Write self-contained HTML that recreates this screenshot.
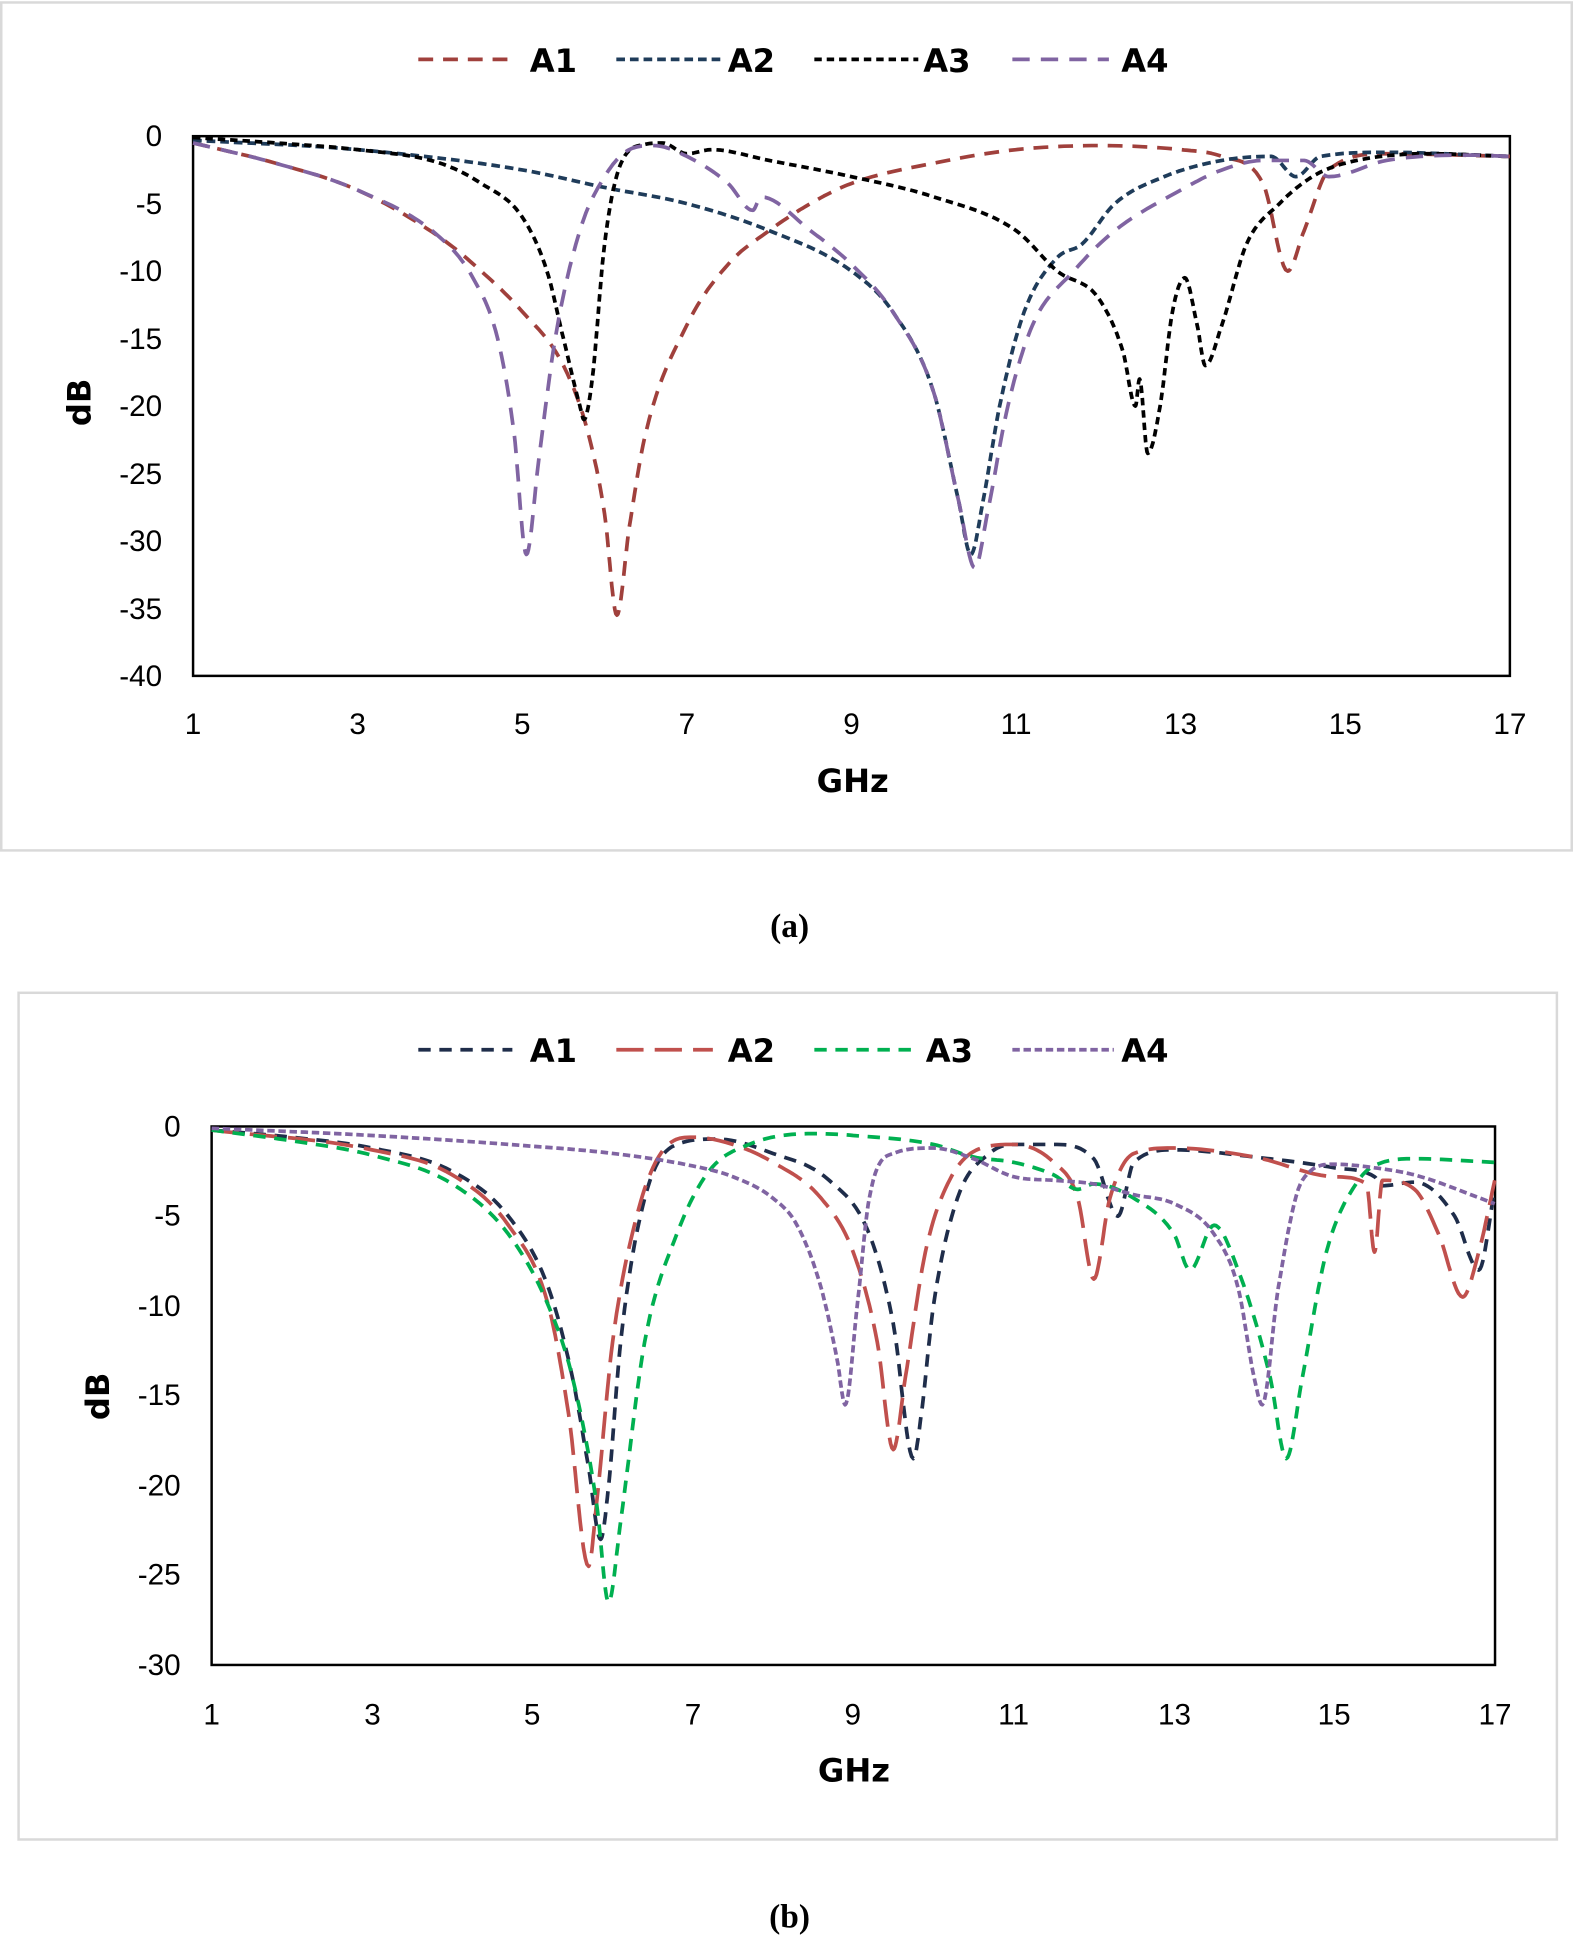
<!DOCTYPE html>
<html><head><meta charset="utf-8"><style>
html,body{margin:0;padding:0;background:#fff;}
svg{display:block;}
.t{font-family:"Liberation Sans",sans-serif;font-size:24px;fill:#000;}
.b{font-family:"DejaVu Sans","Liberation Sans",sans-serif;font-weight:bold;font-size:26px;fill:#000;}
.c{font-family:"Liberation Serif",serif;font-weight:bold;font-size:27px;fill:#000;}
</style></head><body>
<svg id="s" width="1573" height="1941" viewBox="0 0 1271 1568" preserveAspectRatio="none">
<rect x="1" y="2" width="1269" height="685" fill="none" stroke="#d9d9d9" stroke-width="2"/>
<rect x="15" y="802" width="1243" height="684" fill="none" stroke="#d9d9d9" stroke-width="2"/>
<rect x="156" y="110" width="1064" height="436" fill="none" stroke="#000" stroke-width="2"/>
<rect x="171" y="910" width="1037" height="435" fill="none" stroke="#000" stroke-width="2"/>
<g class="t" text-anchor="end">
<text x="131" y="118">0</text><text x="131" y="173">-5</text><text x="131" y="227">-10</text><text x="131" y="282">-15</text><text x="131" y="336">-20</text><text x="131" y="391">-25</text><text x="131" y="445">-30</text><text x="131" y="500">-35</text><text x="131" y="554">-40</text>
<text x="146" y="918">0</text><text x="146" y="990">-5</text><text x="146" y="1063">-10</text><text x="146" y="1135">-15</text><text x="146" y="1208">-20</text><text x="146" y="1280">-25</text><text x="146" y="1353">-30</text>
</g>
<g class="t" text-anchor="middle">
<text x="156" y="593">1</text><text x="289" y="593">3</text><text x="422" y="593">5</text><text x="555" y="593">7</text><text x="688" y="593">9</text><text x="821" y="593">11</text><text x="954" y="593">13</text><text x="1087" y="593">15</text><text x="1220" y="593">17</text>
<text x="171" y="1393">1</text><text x="301" y="1393">3</text><text x="430" y="1393">5</text><text x="560" y="1393">7</text><text x="689" y="1393">9</text><text x="819" y="1393">11</text><text x="949" y="1393">13</text><text x="1078" y="1393">15</text><text x="1208" y="1393">17</text>
</g>
<g class="b" text-anchor="middle">
<text x="689" y="640">GHz</text><text x="690" y="1439">GHz</text>
<text transform="translate(73,325) rotate(-90)">dB</text>
<text transform="translate(88,1128) rotate(-90)">dB</text>
</g>
<g class="b">
<text x="428" y="58">A1</text><text x="588" y="58">A2</text><text x="746" y="58">A3</text><text x="906" y="58">A4</text>
<text x="428" y="858">A1</text><text x="588" y="858">A2</text><text x="748" y="858">A3</text><text x="906" y="858">A4</text>
</g>
<g stroke-width="3" fill="none">
<line x1="338" y1="48" x2="412" y2="48" stroke="#a0403c" stroke-dasharray="12,8"/>
<line x1="498" y1="48" x2="582" y2="48" stroke="#1f3c5a" stroke-dasharray="7,4"/>
<line x1="658" y1="48" x2="742" y2="48" stroke="#000" stroke-dasharray="6,4"/>
<line x1="818" y1="48" x2="896" y2="48" stroke="#8064a2" stroke-dasharray="14,9"/>
<line x1="338" y1="848" x2="414" y2="848" stroke="#1f2d4a" stroke-dasharray="10,7"/>
<line x1="498" y1="848" x2="576" y2="848" stroke="#c0504d" stroke-dasharray="22,9"/>
<line x1="658" y1="848" x2="740" y2="848" stroke="#00b050" stroke-dasharray="10,7"/>
<line x1="818" y1="848" x2="900" y2="848" stroke="#8064a2" stroke-dasharray="6,3"/>
</g>
<g id="curves" fill="none" stroke-width="3" stroke-linejoin="round"></g>
<text class="c" x="638" y="757" text-anchor="middle">(a)</text>
<text class="c" x="638" y="1557" text-anchor="middle">(b)</text>
</svg>
<script>
var A={x0:156,gx:66.5,y0:110,dy:10.9},B={x0:171,gx:64.8,y0:910,dy:14.5};
var S=[
[A,"#a0403c","12,8",[[1,-0.5],[2,-2],[3,-4],[4,-7.5],[4.5,-10],[5,-13],[5.5,-17],[5.8,-22],[6,-28],[6.15,-35.5],[6.3,-29],[6.5,-22],[7,-14],[7.5,-9.5],[8,-7],[8.5,-5],[9,-3.5],[10,-2],[11,-1],[12,-0.7],[13,-1],[13.5,-1.5],[14,-3.5],[14.3,-10],[14.5,-7],[14.8,-2.5],[15.5,-1.3],[17,-1.5]]],
[A,"#1f3c5a","7,4",[[1,-0.3],[3,-1],[5,-2.5],[6,-3.8],[7,-5],[8,-7],[9,-10],[9.5,-13],[10,-19],[10.3,-27],[10.45,-31],[10.6,-27],[10.8,-20],[11.1,-13],[11.5,-9],[11.8,-8],[12.2,-5],[12.8,-3],[13.5,-1.8],[14.1,-1.5],[14.4,-3],[14.7,-1.5],[15.5,-1.2],[17,-1.5]]],
[A,"#000","6,4",[[1,-0.1],[2,-0.5],[3,-1],[4,-2],[4.5,-3.5],[5,-6],[5.3,-10],[5.5,-15],[5.7,-20],[5.75,-21],[5.85,-18],[6,-8],[6.2,-2],[6.5,-0.6],[6.7,-0.5],[7,-1.3],[7.3,-1],[8,-1.8],[9,-3],[10,-4.5],[11,-7],[11.5,-10],[12,-12],[12.3,-16],[12.45,-20],[12.5,-18],[12.6,-23.5],[12.75,-20],[12.9,-13],[13.05,-10.5],[13.2,-14],[13.3,-17],[13.5,-14],[13.8,-8],[14.2,-5],[14.6,-3],[15,-2],[16,-1.3],[17,-1.5]]],
[A,"#8064a2","14,9",[[1,-0.5],[2,-2],[3,-4],[4,-7.5],[4.4,-10.5],[4.7,-15],[4.9,-22],[5.05,-31],[5.2,-24],[5.4,-15],[5.7,-7],[6,-3],[6.3,-1],[6.6,-0.7],[7,-1.5],[7.5,-3.5],[7.8,-5.5],[7.9,-4.5],[8.5,-7],[9,-9.5],[9.5,-13],[10,-19],[10.3,-27],[10.5,-32],[10.65,-28],[10.9,-20],[11.2,-14],[11.7,-10],[12.2,-7],[13,-4],[13.5,-2.5],[14,-1.8],[14.5,-1.8],[14.8,-3],[15.5,-1.8],[16.5,-1.4],[17,-1.5]]],
[B,"#1f2d4a","10,7",[[1,-0.2],[2,-0.6],[3,-1.2],[4,-2.5],[4.7,-5],[5.2,-9],[5.5,-14],[5.7,-19],[5.85,-23],[5.95,-20],[6.1,-12],[6.4,-4],[6.8,-1],[7.3,-0.7],[8,-1.5],[8.7,-3],[9.2,-6],[9.5,-11],[9.75,-18.5],[9.85,-16],[10,-10],[10.3,-4],[10.7,-1.5],[11,-1],[11.5,-1],[12,-1.8],[12.3,-5],[12.5,-2],[13,-1.3],[14,-1.7],[15,-2.3],[15.5,-2.8],[15.6,-3.3],[16,-3.1],[16.5,-5],[16.8,-8],[17,-3.5]]],
[B,"#c0504d","22,9",[[1,-0.2],[3,-1.3],[4,-2.7],[4.7,-5.5],[5.2,-10],[5.45,-16],[5.7,-24.5],[5.8,-21],[6,-12],[6.3,-5],[6.6,-1.5],[7,-0.6],[7.5,-1],[8,-2],[8.6,-4],[9,-7],[9.3,-12],[9.5,-18],[9.65,-14],[9.9,-7],[10.2,-3],[10.6,-1.2],[11,-1],[11.5,-2],[11.8,-4],[12,-8.5],[12.2,-4],[12.5,-1.5],[13,-1.2],[14,-1.7],[15,-2.8],[15.4,-3.2],[15.5,-7],[15.6,-3],[16,-3.5],[16.3,-6],[16.6,-9.5],[16.8,-7],[17,-3]]],
[B,"#00b050","10,7",[[1,-0.2],[2,-0.8],[3,-1.6],[4,-3.2],[4.7,-6],[5.2,-10],[5.5,-14],[5.8,-21],[5.95,-26.5],[6.1,-22],[6.4,-12],[6.8,-6],[7.2,-2.5],[7.7,-1],[8.5,-0.4],[9,-0.5],[10,-1],[10.5,-1.7],[11,-2],[11.5,-2.7],[11.8,-3.5],[12,-3.2],[12.5,-4],[13,-6],[13.2,-8],[13.5,-5.5],[13.8,-8],[14.2,-14],[14.4,-18.5],[14.6,-14],[14.9,-7],[15.3,-3],[15.6,-2],[16,-1.8],[17,-2]]],
[B,"#8064a2","6,3",[[1,-0.1],[3,-0.5],[5,-1.1],[6,-1.5],[7,-2.2],[7.5,-2.8],[8,-4],[8.3,-5.5],[8.6,-9],[8.8,-13],[8.9,-15.5],[9.05,-10],[9.2,-4],[9.5,-1.5],[10,-1.2],[10.5,-1.8],[11,-2.8],[11.5,-3],[12,-3.2],[12.5,-3.8],[13,-4.3],[13.5,-6],[13.8,-9],[14,-14],[14.1,-15.5],[14.3,-9],[14.6,-3],[15,-2.1],[15.5,-2.3],[16,-2.7],[17,-4.3]]]
];
function mono(P){var n=P.length,d=[],m=[];for(var i=0;i<n-1;i++)d.push((P[i+1][1]-P[i][1])/(P[i+1][0]-P[i][0]));
m[0]=d[0];m[n-1]=d[n-2];for(i=1;i<n-1;i++){m[i]=(d[i-1]*d[i]<=0)?0:(d[i-1]+d[i])/2;}
for(i=0;i<n-1;i++){if(d[i]==0){m[i]=m[i+1]=0;continue;}var a=m[i]/d[i],b=m[i+1]/d[i],s=a*a+b*b;if(s>9){var t=3/Math.sqrt(s);m[i]=t*a*d[i];m[i+1]=t*b*d[i];}}
var out=[];for(i=0;i<n-1;i++){var x0=P[i][0],x1=P[i+1][0],h=x1-x0,y0=P[i][1],y1=P[i+1][1];for(var k=0;k<12;k++){var t=k/12,t2=t*t,t3=t2*t;
out.push([x0+t*h,(2*t3-3*t2+1)*y0+(t3-2*t2+t)*h*m[i]+(-2*t3+3*t2)*y1+(t3-t2)*h*m[i+1]]);}}out.push(P[n-1]);return out;}
var g=document.getElementById("curves"),ns="http://www.w3.org/2000/svg";
S.forEach(function(s){var a=s[0],d="";mono(s[3]).forEach(function(p,i){d+=(i?"L":"M")+(a.x0+(p[0]-1)*a.gx).toFixed(1)+","+(a.y0-p[1]*a.dy).toFixed(1);});
var e=document.createElementNS(ns,"path");e.setAttribute("d",d);e.setAttribute("stroke",s[1]);e.setAttribute("stroke-dasharray",s[2]);g.appendChild(e);});
</script>
</body></html>
